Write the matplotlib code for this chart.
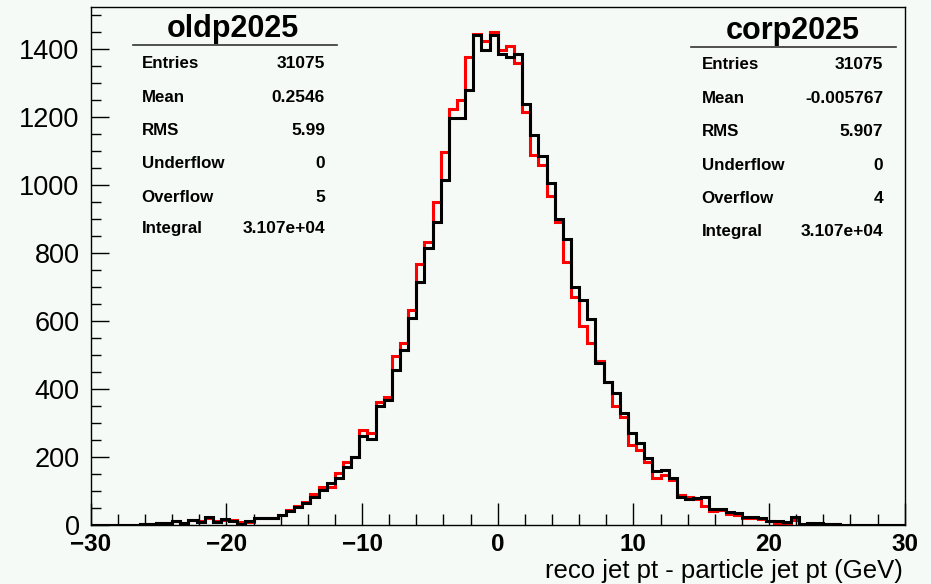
import numpy as np
import matplotlib
matplotlib.use("Agg")
from matplotlib import pyplot as plt
from matplotlib.ticker import MultipleLocator

# 100 bins from -30 to 30
bin_edges = np.linspace(-30, 30, 101)

# black histogram (oldp2025)
oldp_counts = [0, 0, 0, 0, 0, 0, 1, 1, 5, 5,
               12, 5, 14, 9, 22, 9, 16, 12, 2, 12,
               19, 19, 19, 29, 41, 53, 65, 82, 102, 122,
               136, 171, 198, 261, 251, 348, 367, 455, 514, 607,
               715, 813, 891, 1014, 1197, 1197, 1278, 1440, 1398, 1440,
               1386, 1376, 1386, 1239, 1146, 1084, 1004, 898, 842, 700,
               661, 604, 475, 421, 388, 329, 269, 241, 196, 157,
               161, 136, 81, 75, 80, 82, 45, 45, 38, 33,
               24, 22, 19, 12, 12, 9, 22, 2, 5, 5,
               1, 1, 0, 0, 0, 0, 0, 0, 0, 0]

# red histogram (corp2025)
corp_counts = [0, 0, 0, 0, 0, 0, 1, 1, 4, 6,
               10, 6, 14, 10, 20, 10, 15, 14, 9, 7,
               19, 20, 20, 30, 42, 55, 66, 89, 110, 112,
               151, 185, 200, 279, 269, 360, 376, 496, 535, 631,
               767, 832, 950, 1097, 1222, 1249, 1375, 1443, 1424, 1450,
               1396, 1408, 1357, 1215, 1087, 1058, 967, 891, 773, 671,
               584, 535, 482, 421, 349, 318, 234, 220, 185, 137,
               147, 131, 87, 81, 75, 55, 40, 42, 32, 30,
               20, 20, 16, 12, 5, 5, 15, 2, 3, 3,
               1, 1, 0, 0, 0, 0, 0, 0, 0, 0]

stat_names = ["Entries", "Mean", "RMS", "Underflow", "Overflow", "Integral"]
oldp_stats = ["31075", "0.2546", "5.99", "0", "5", "3.107e+04"]
corp_stats = ["31075", "-0.005767", "5.907", "0", "4", "3.107e+04"]

bg = "#f5faf7"
W, H = 931, 584
ax_l, ax_r, ax_t, ax_b = 90.7, 904.7, 6.7, 524.7

fig = plt.figure(figsize=(W / 100, H / 100), dpi=100, facecolor=bg)
ax = fig.add_axes([ax_l / W, 1 - ax_b / H, (ax_r - ax_l) / W, (ax_b - ax_t) / H])
ax.set_facecolor(bg)

ax.stairs(corp_counts, bin_edges, color="#ff0000", lw=2.2)
ax.stairs(oldp_counts, bin_edges, color="black", lw=2.2)

ax.set_xlim(-30, 30)
ax.set_ylim(0, 1524)

ax.xaxis.set_major_locator(MultipleLocator(10))
ax.xaxis.set_minor_locator(MultipleLocator(2))
ax.yaxis.set_major_locator(MultipleLocator(200))
ax.yaxis.set_minor_locator(MultipleLocator(50))
ax.tick_params(which="both", direction="in", top=False, right=False, width=1)
ax.tick_params(axis="x", which="major", length=16, pad=6)
ax.tick_params(axis="x", which="minor", length=8)
ax.tick_params(axis="y", which="major", length=13, pad=8)
ax.tick_params(axis="y", which="minor", length=7)
for lab in ax.get_xticklabels():
    lab.set_fontfamily("Liberation Sans")
    lab.set_fontweight("bold")
    lab.set_fontsize(17.5)
for lab in ax.get_yticklabels():
    lab.set_fontfamily("Liberation Sans")
    lab.set_fontsize(19.5)
for sp in ax.spines.values():
    sp.set_linewidth(1)

def px(x, y):
    return ((x - ax_l) / (ax_r - ax_l), (ax_b - y) / (ax_b - ax_t))

fig.text(903 / W, 1 - 578 / H, "reco jet pt - particle jet pt (GeV)", ha="right",
         va="baseline", fontsize=18.5, family="Liberation Sans")

# stats boxes
boxes = [
    ("oldp2025", oldp_stats, 232.5, 37.3, (132.7, 336.7, 45), 141.7, 325,
     [68.3, 101.7, 135, 168.3, 201.7, 233.3]),
    ("corp2025", corp_stats, 792.5, 39.3, (691, 896, 46.7), 701.7, 883.3,
     [69.3, 102.7, 136, 170, 203.3, 236]),
]
for title, vals, tx, ty, line, lx, vx, rows in boxes:
    ax.text(*px(tx, ty), title, transform=ax.transAxes, ha="center", va="baseline",
            fontsize=22, fontweight="bold", family="Liberation Sans")
    x0, y0 = px(line[0], line[2])
    x1, _ = px(line[1], line[2])
    ax.plot([x0, x1], [y0, y0], transform=ax.transAxes, color="#333333", lw=1.2,
            clip_on=False)
    for name, v, ry in zip(stat_names, vals, rows):
        ax.text(*px(lx, ry), name, transform=ax.transAxes, ha="left", va="baseline",
                fontsize=12.2, fontweight="bold", family="Liberation Sans")
        ax.text(*px(vx, ry), v, transform=ax.transAxes, ha="right", va="baseline",
                fontsize=12.5, fontweight="bold", family="Liberation Sans")

fig.savefig("out.png", dpi=100, facecolor=bg)
